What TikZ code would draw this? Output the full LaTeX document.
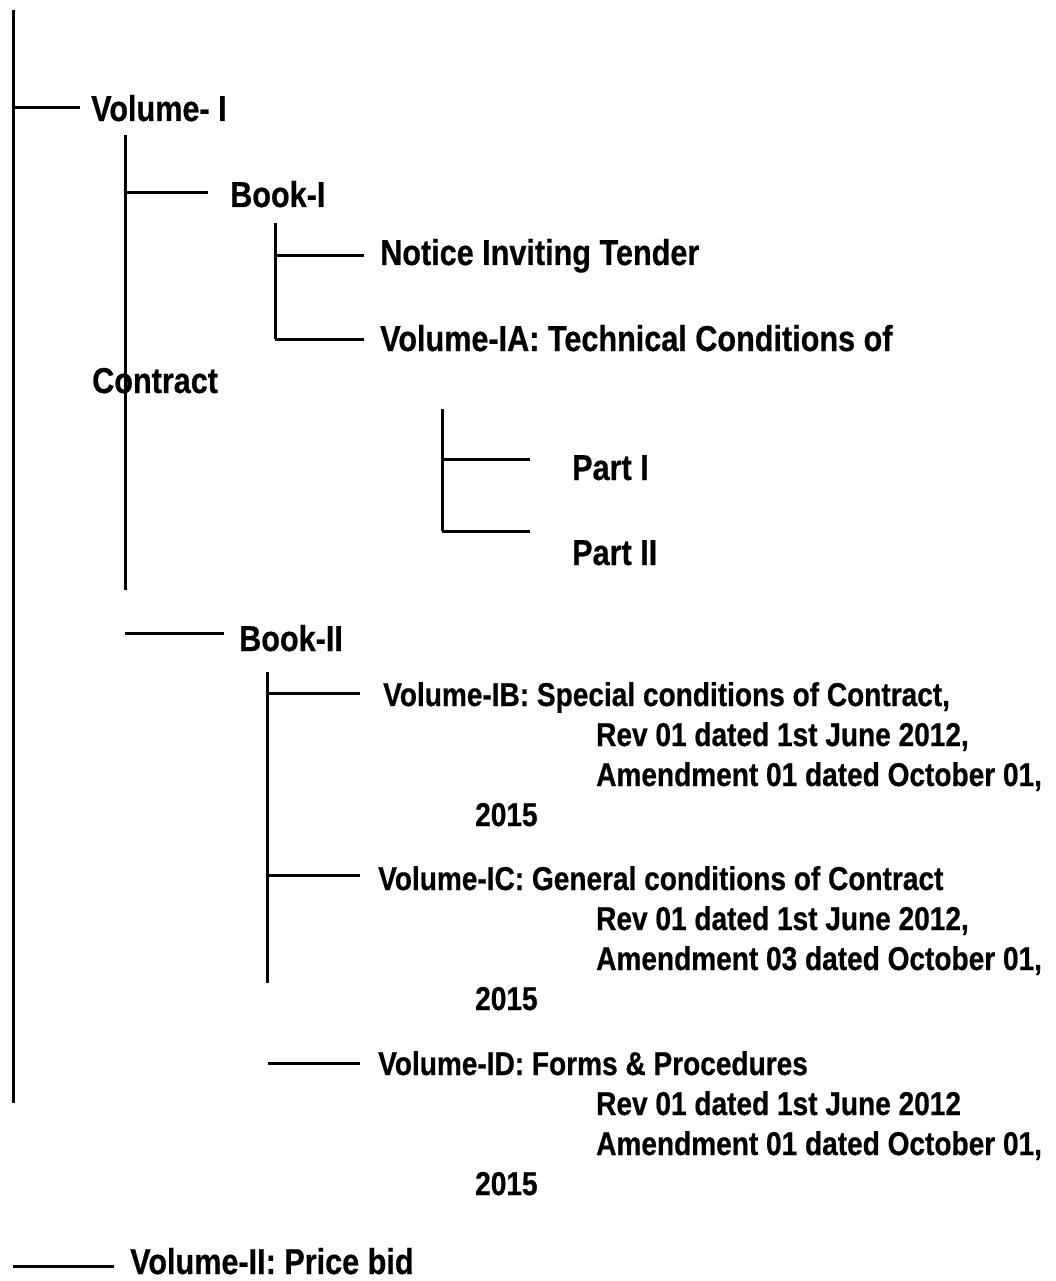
\documentclass[tikz,border=0pt]{standalone}
\usepackage{fontspec}
\setmainfont{Liberation Sans}[FakeStretch=0.85, BoldFeatures={FakeStretch=0.85, FakeBold=0.6}]
\begin{document}
\begin{tikzpicture}[x=1pt,y=-1pt,
  txt/.style={anchor=base west, inner sep=0pt, font=\fontsize{36}{40}\selectfont\bfseries},
  txts/.style={anchor=base west, inner sep=0pt, font=\fontsize{33}{40}\selectfont\bfseries},
  wire/.style={line width=3pt}]
\useasboundingbox (0,0) rectangle (1055,1281);
% text nodes
\node[txt] (v1)   at (91,121)  {Volume- I};
\node[txt] (b1)   at (230,207) {Book-I};
\node[txt] (nit)  at (380,265) {Notice Inviting Tender};
\node[txt] (via)  at (380,351) {Volume-IA: Technical Conditions of};
\node[txt] (via2) at (92,393)  {Contract};
\node[txt] (p1)   at (572,480) {Part I};
\node[txt] (p2)   at (572,565) {Part II};
\node[txt] (b2)   at (239,651) {Book-II};
\node[txts] (ib1)  at (383,706) {Volume-IB: Special conditions of Contract,};
\node[txts] (ib2)  at (596,746) {Rev 01 dated 1st June 2012,};
\node[txts] (ib3)  at (596,786) {Amendment 01 dated October 01,};
\node[txts] (ib4)  at (475,826) {2015};
\node[txts] (ic1)  at (378,890) {Volume-IC: General conditions of Contract};
\node[txts] (ic2)  at (596,930) {Rev 01 dated 1st June 2012,};
\node[txts] (ic3)  at (596,970) {Amendment 03 dated October 01,};
\node[txts] (ic4)  at (475,1010) {2015};
\node[txts] (id1)  at (378,1075) {Volume-ID: Forms \& Procedures};
\node[txts] (id2)  at (596,1115) {Rev 01 dated 1st June 2012};
\node[txts] (id3)  at (596,1155) {Amendment 01 dated October 01,};
\node[txts] (id4)  at (475,1195) {2015};
\node[txt] (v2)   at (130,1274) {Volume-II: Price bid};
% trunk coordinates
\coordinate (t0a) at (13,10);    \coordinate (t0b) at (13,1103);
\coordinate (t1a) at (125,135);  \coordinate (t1b) at (125,590);
\coordinate (t2a) at (275,223);  \coordinate (t2b) at (275,339);
\coordinate (t3a) at (442,409);  \coordinate (t3b) at (442,531);
\coordinate (t4a) at (267,672);  \coordinate (t4b) at (267,983);
% stub ends
\coordinate (e1) at (80,108);
\coordinate (e2) at (208,193);
\coordinate (e3) at (364,255);
\coordinate (e4) at (364,339);
\coordinate (e5) at (530,459);
\coordinate (e6) at (530,531);
\coordinate (e7) at (224,633);
\coordinate (e8) at (360,693);
\coordinate (e9) at (360,875);
\coordinate (e10) at (360,1063);
\coordinate (e11) at (114,1266);
\coordinate (s10) at (268,1063);
\coordinate (s11) at (13,1266);
% trunks
\draw[wire] (t0a) -- (t0b);
\draw[wire] (t1a) -- (t1b);
\draw[wire] (t2a) -- (t2b);
\draw[wire] (t3a) -- (t3b);
\draw[wire] (t4a) -- (t4b);
% stubs
\draw[wire] (t0a |- e1) -- (e1);
\draw[wire] (t1a |- e2) -- (e2);
\draw[wire] (t2a |- e3) -- (e3);
\draw[wire] (t2b) -- (e4);
\draw[wire] (t3a |- e5) -- (e5);
\draw[wire] (t3b) -- (e6);
\draw[wire] (t1b |- e7) -- (e7);
\draw[wire] (t4a |- e8) -- (e8);
\draw[wire] (t4a |- e9) -- (e9);
\draw[wire] (s10) -- (e10);
\draw[wire] (s11) -- (e11);
\end{tikzpicture}
\end{document}
